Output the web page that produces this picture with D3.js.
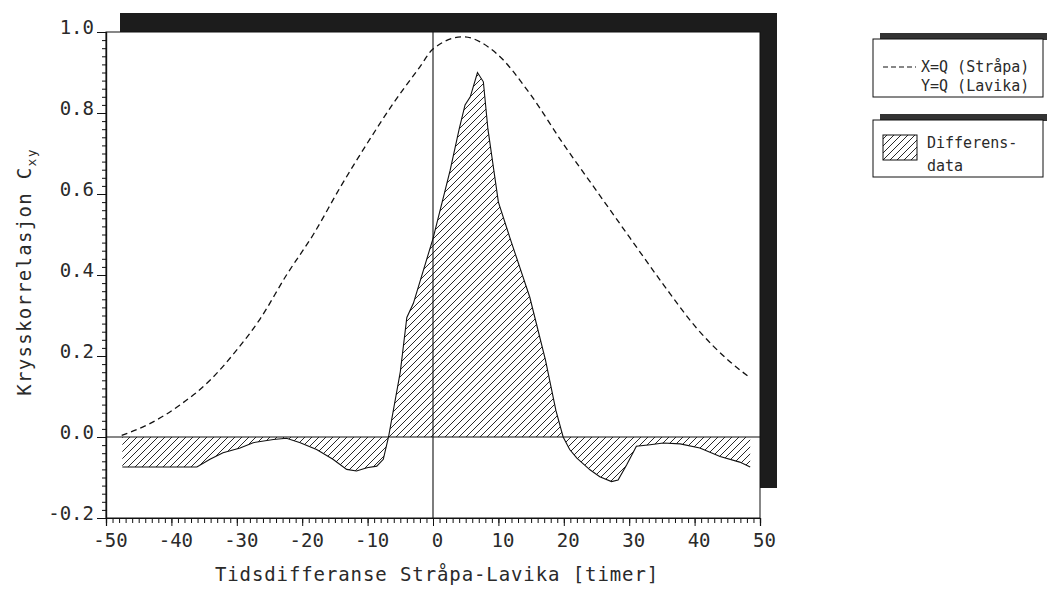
<!DOCTYPE html>
<html>
<head>
<meta charset="utf-8">
<script src="https://cdn.jsdelivr.net/npm/d3@7"></script>
<style>
  html, body { margin: 0; padding: 0; background: #fff; }
  svg { display: block; }
  text { font-family: "DejaVu Sans Mono", "Liberation Mono", monospace; fill: #2a2a2a; }
</style>
</head>
<body>
<svg id="chart" width="1057" height="595"></svg>
<script>
// ---- data ----
const dashLag = [-47.6, -43.3, -38.7, -34.1, -30.0, -26.5, -22.4, -18.3, -14.2, -10.1, -6.1, -2.0, 0, 4.6, 9.7, 14.8, 19.9, 25.0, 30.1, 35.2, 40.3, 45.4, 48.5];
const dashVal = [0.004, 0.033, 0.079, 0.14, 0.215, 0.29, 0.40, 0.50, 0.616, 0.724, 0.823, 0.914, 0.958, 0.988, 0.947, 0.848, 0.724, 0.608, 0.492, 0.377, 0.269, 0.186, 0.146];

const diffLag = [-47.5, -44, -40, -36.1, -34.1, -32.1, -29.5, -27.5, -24.4, -22.4, -20.3, -17.8, -15.3, -13.2, -11.7, -10.1, -8.6, -7.6, -6.8, -5.0, -4.0, -3.0, 0, 2.6, 4.0, 4.9, 5.7, 6.8, 7.7, 8.4, 10.0, 11.8, 14.8, 17.2, 18.8, 19.9, 20.9, 22.0, 24.0, 25.5, 27.3, 28.3, 29.6, 31.1, 33.2, 35.2, 37.8, 40.8, 43.9, 46.9, 48.5];
const diffVal = [-0.074, -0.074, -0.074, -0.074, -0.055, -0.039, -0.027, -0.014, -0.006, -0.003, -0.014, -0.031, -0.055, -0.080, -0.084, -0.076, -0.072, -0.055, 0.0, 0.161, 0.295, 0.33, 0.49, 0.657, 0.76, 0.82, 0.84, 0.90, 0.877, 0.76, 0.58, 0.49, 0.345, 0.19, 0.065, 0.0, -0.031, -0.052, -0.081, -0.098, -0.110, -0.106, -0.069, -0.023, -0.019, -0.015, -0.017, -0.027, -0.048, -0.062, -0.074];

const xTicks = [-50, -40, -30, -20, -10, 0, 10, 20, 30, 40, 50];
const xTickLabels = ["-50", "-40", "-30", "-20", "-10", "0", "10", "20", "30", "40", "50"];
const yTicks = [-0.2, 0.0, 0.2, 0.4, 0.6, 0.8, 1.0];
const yTickLabels = ["-0.2", "0.0", "0.2", "0.4", "0.6", "0.8", "1.0"];

const xTitle = "Tidsdifferanse Stråpa-Lavika [timer]";
const yTitle = "Krysskorrelasjon C";
const yTitleSub = "xy";
const legend1 = ["X=Q (Stråpa)", "Y=Q (Lavika)"];
const legend2 = ["Differens-", "data"];

// ---- layout ----
const L = 106, R = 760, T = 32, B = 518;
const svg = d3.select("#chart");
const ink = "#111";

const x = d3.scaleLinear().domain([-50, 50]).range([L, R]);
const y = d3.scaleLinear().domain([-0.2, 1.0]).range([B, T]);

// hatch pattern
const defs = svg.append("defs");
const pat = defs.append("pattern").attr("id", "hatch")
  .attr("patternUnits", "userSpaceOnUse").attr("width", 7).attr("height", 7);
pat.append("path").attr("d", "M0,7 L7,0 M-1,1 L1,-1 M6,8 L8,6")
  .attr("stroke", ink).attr("stroke-width", 0.9);

// shadow frame behind plot
svg.append("rect").attr("x", L + 14).attr("y", T - 19).attr("width", R - L + 3).attr("height", B - T - 11)
  .attr("fill", "#1c1c1c");
svg.append("rect").attr("x", L).attr("y", T).attr("width", R - L).attr("height", B - T)
  .attr("fill", "#fff").attr("stroke", ink).attr("stroke-width", 1);

// hatched difference data
const pts = diffLag.map((d, i) => [d, diffVal[i]]);
svg.append("path").datum(pts)
  .attr("fill", "url(#hatch)")
  .attr("d", d3.area().x(d => x(d[0])).y0(y(0)).y1(d => y(d[1])));
svg.append("path").datum(pts)
  .attr("fill", "none").attr("stroke", ink).attr("stroke-width", 1.1)
  .attr("d", d3.line().x(d => x(d[0])).y(d => y(d[1])));

// zero lines
svg.append("line").attr("x1", L).attr("x2", R).attr("y1", y(0)).attr("y2", y(0))
  .attr("stroke", ink).attr("stroke-width", 1.1);
svg.append("line").attr("x1", x(0)).attr("x2", x(0)).attr("y1", T).attr("y2", B)
  .attr("stroke", ink).attr("stroke-width", 1.1);

// dashed cross-correlation
const dpts = dashLag.map((d, i) => [d, dashVal[i]]);
svg.append("path").datum(dpts)
  .attr("fill", "none").attr("stroke", ink).attr("stroke-width", 1.3)
  .attr("stroke-dasharray", "6,4")
  .attr("d", d3.line().curve(d3.curveMonotoneX).x(d => x(d[0])).y(d => y(d[1])));

// axes
const fontSize = 19;
const minorX = d3.range(-50, 51, 1);
const minorY = d3.range(-0.2, 1.0001, 0.02);

const gxMinor = svg.append("g").attr("transform", `translate(0,${B})`)
  .call(d3.axisBottom(x).tickValues(minorX).tickSize(5).tickFormat(""));
const gx = svg.append("g").attr("transform", `translate(0,${B})`)
  .call(d3.axisBottom(x).tickValues(xTicks).tickSize(8).tickPadding(8)
    .tickFormat((d, i) => xTickLabels[i]));
gx.selectAll("text").attr("font-size", fontSize).attr("dx", 4)
  .style("font-family", '"DejaVu Sans Mono", monospace').attr("fill", "#2a2a2a");

const gyMinor = svg.append("g").attr("transform", `translate(${L},0)`)
  .call(d3.axisLeft(y).tickValues(minorY).tickSize(4).tickFormat(""));
const gy = svg.append("g").attr("transform", `translate(${L},0)`)
  .call(d3.axisLeft(y).tickValues(yTicks).tickSize(9).tickPadding(3)
    .tickFormat((d, i) => yTickLabels[i]));
gy.selectAll("text").attr("font-size", fontSize).attr("dy", "0.08em")
  .style("font-family", '"DejaVu Sans Mono", monospace').attr("fill", "#2a2a2a");

[gxMinor, gx, gyMinor, gy].forEach(g => {
  g.selectAll("line").attr("stroke", ink).attr("stroke-width", 1);
  g.select(".domain").attr("stroke", ink).attr("stroke-width", 1.2);
});

// axis titles
svg.append("text").attr("x", (L + R) / 2 + 4).attr("y", 581)
  .attr("text-anchor", "middle").attr("font-size", fontSize)
  .attr("letter-spacing", 0.9).text(xTitle);

const yt = svg.append("text").attr("transform", "translate(31,272) rotate(-90)")
  .attr("text-anchor", "middle").attr("font-size", fontSize).attr("letter-spacing", 1.3);
yt.append("tspan").text(yTitle);
yt.append("tspan").attr("font-size", 13).attr("dy", 5).text(yTitleSub);

// legend 1
svg.append("rect").attr("x", 880).attr("y", 33).attr("width", 167).attr("height", 7).attr("fill", "#333");
svg.append("rect").attr("x", 873).attr("y", 39).attr("width", 170).attr("height", 58)
  .attr("fill", "#fff").attr("stroke", ink).attr("stroke-width", 1);
svg.append("line").attr("x1", 883).attr("x2", 916).attr("y1", 67).attr("y2", 67)
  .attr("stroke", ink).attr("stroke-width", 1.2).attr("stroke-dasharray", "5,3");
legend1.forEach((t, i) => {
  svg.append("text").attr("x", 921).attr("y", 72 + i * 19).attr("font-size", 15).text(t);
});

// legend 2
svg.append("rect").attr("x", 880).attr("y", 114).attr("width", 167).attr("height", 7).attr("fill", "#333");
svg.append("rect").attr("x", 873).attr("y", 120).attr("width", 170).attr("height", 57)
  .attr("fill", "#fff").attr("stroke", ink).attr("stroke-width", 1);
svg.append("rect").attr("x", 883).attr("y", 135).attr("width", 34).attr("height", 25)
  .attr("fill", "url(#hatch)").attr("stroke", ink).attr("stroke-width", 1);
legend2.forEach((t, i) => {
  svg.append("text").attr("x", 927).attr("y", 148 + i * 23).attr("font-size", 15).text(t);
});
</script>
</body>
</html>
